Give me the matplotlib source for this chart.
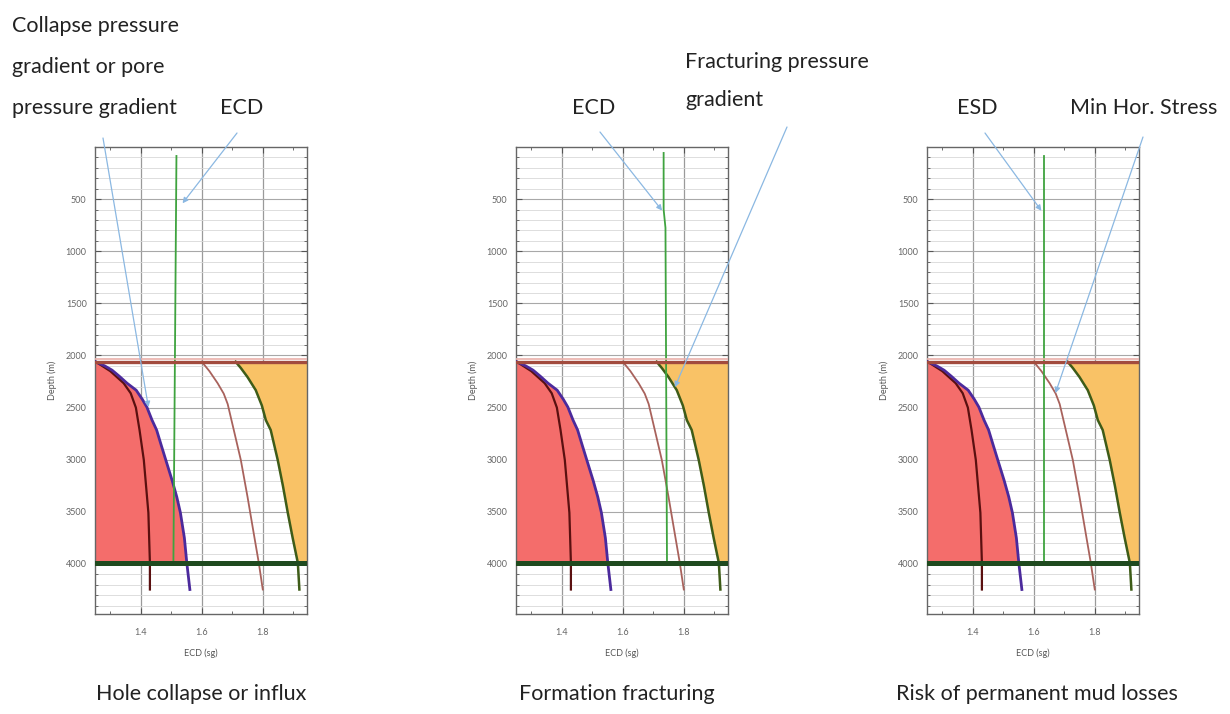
import numpy as np
import matplotlib
matplotlib.use('Agg')
import matplotlib.pyplot as plt
from matplotlib.ticker import MultipleLocator, FixedLocator

plt.rcParams['font.family'] = ['Lato', 'DejaVu Sans']

# curves shared by the three panels: (depth m, ECD sg)
collapse_depth = [2060, 2100, 2141, 2200, 2266, 2333, 2420, 2495, 2620, 2715, 2850, 3002, 3200, 3356, 3509, 3750, 3990, 4245]
collapse_sg    = [1.252, 1.282, 1.306, 1.330, 1.355, 1.385, 1.405, 1.420, 1.437, 1.452, 1.466, 1.482, 1.503, 1.518, 1.530, 1.543, 1.551, 1.561]

pore_depth = [2060, 2150, 2266, 2362, 2500, 2715, 3002, 3509, 3990, 4245]
pore_sg    = [1.252, 1.300, 1.344, 1.367, 1.384, 1.396, 1.410, 1.425, 1.430, 1.430]

minstress_depth = [2060, 2150, 2266, 2366, 2466, 2715, 3002, 3356, 3700, 3990, 4245]
minstress_sg    = [1.600, 1.625, 1.652, 1.672, 1.685, 1.705, 1.728, 1.750, 1.770, 1.787, 1.800]

frac_depth = [2060, 2120, 2207, 2333, 2480, 2620, 2715, 3002, 3250, 3509, 3750, 3990, 4245]
frac_sg    = [1.711, 1.728, 1.750, 1.777, 1.797, 1.810, 1.826, 1.849, 1.866, 1.882, 1.898, 1.915, 1.920]

top_section = 2062     # brown horizontal line
bottom_section = 3990  # dark green horizontal line

# ECD / ESD line per panel
ecd_depth = [[86, 3990], [57, 600, 775, 3990], [86, 3990]]
ecd_sg = [[1.517, 1.507], [1.734, 1.734, 1.740, 1.745], [1.633, 1.633]]

titles = ['Hole collapse or influx', 'Formation fracturing', 'Risk of permanent mud losses']

W, H = 1230, 714
fig = plt.figure(figsize=(W / 100, H / 100), dpi=100)

def fx(px):
    return px / W

def fy(py):
    return 1 - py / H

axes_left = [95, 516, 927]
axes_top, axes_bottom = 147, 614

c_red_fill = '#f46d6b'
c_orange = '#f9c266'
arrow_c = '#8bb8e2'

axs = []
for i in range(3):
    ax = fig.add_axes([fx(axes_left[i]), fy(axes_bottom), fx(212), (axes_bottom - axes_top) / H])
    axs.append(ax)
    ax.set_xlim(1.25, 1.945)
    ax.set_ylim(4480, 0)
    xl, xr = ax.get_xlim()

    ax.yaxis.set_major_locator(FixedLocator([500, 1000, 1500, 2000, 2500, 3000, 3500, 4000]))
    ax.yaxis.set_minor_locator(MultipleLocator(100))
    ax.xaxis.set_major_locator(FixedLocator([1.4, 1.6, 1.8]))
    ax.xaxis.set_minor_locator(MultipleLocator(0.1))
    ax.grid(which='minor', axis='y', color='#d8d8d8', lw=0.6)
    ax.grid(which='major', axis='y', color='#a8a8a8', lw=0.8)
    ax.grid(which='major', axis='x', color='#9a9a9a', lw=0.9)
    ax.set_axisbelow(True)
    ax.tick_params(which='both', direction='in', top=True, right=True, colors='#555555',
                   labelsize=6.5, labelcolor='#666666')
    ax.tick_params(which='major', length=4)
    ax.tick_params(which='minor', length=2)
    ax.tick_params(axis='y', which='major', pad=6)
    ax.tick_params(axis='x', which='major', pad=10)
    for s in ax.spines.values():
        s.set_color('#666666')
        s.set_linewidth(1.0)
    ax.set_xlabel('ECD (sg)', fontsize=6.5, color='#555555', labelpad=8)
    ax.set_ylabel('Depth (m)', fontsize=6.5, color='#555555', labelpad=6)

    cd = np.array(collapse_depth); cs = np.array(collapse_sg)
    m = cd <= bottom_section
    ax.fill_betweenx(cd[m], xl, cs[m], color=c_red_fill, lw=0, zorder=2)
    fd = np.array(frac_depth); fs = np.array(frac_sg)
    m = fd <= bottom_section
    ax.fill_betweenx(fd[m], fs[m], xr, color=c_orange, lw=0, zorder=2)

    ax.plot(pore_sg, pore_depth, color='#5a1010', lw=1.6, zorder=4)
    ax.plot(collapse_sg, collapse_depth, color='#4b2a9c', lw=2.0, zorder=4)
    ax.plot(minstress_sg, minstress_depth, color='#a8625c', lw=1.3, zorder=4)
    ax.plot(frac_sg, frac_depth, color='#3e5c18', lw=1.8, zorder=4)
    ax.plot(ecd_sg[i], ecd_depth[i], color='#3fa33f', lw=1.3, zorder=5)

    ax.axhline(top_section - 28, color='#eab0aa', lw=1.2, zorder=6)
    ax.axhline(top_section, color='#a24b3e', lw=2.4, zorder=6)
    ax.axhline(bottom_section, color='#1f4a1f', lw=3.6, zorder=6)

    fig.text(fx([96, 519, 896][i]), fy(700), titles[i], fontsize=15.5, color='#222222',
             ha='left', va='baseline')

ap = dict(arrowstyle='-|>', color=arrow_c, lw=0.9, mutation_scale=8, shrinkA=0, shrinkB=0)

def arrow(ax, xy, tail):
    ax.annotate('', xy=xy, xytext=(fx(tail[0]), fy(tail[1])), textcoords='figure fraction',
                arrowprops=ap, zorder=8, annotation_clip=False)

# panel 1
arrow(axs[0], (np.interp(2495, collapse_depth, collapse_sg) + 0.005, 2495), (103, 138))
arrow(axs[0], (ecd_sg[0][0] + 0.02, 540), (237, 133))
# panel 2
arrow(axs[1], (ecd_sg[1][0] - 0.005, 610), (600, 132))
arrow(axs[1], (np.interp(2304, frac_depth, frac_sg), 2304), (787, 127))
# panel 3
arrow(axs[2], (ecd_sg[2][0] - 0.008, 612), (985, 133))
arrow(axs[2], (np.interp(2361, minstress_depth, minstress_sg), 2361), (1143, 137))

tk = dict(fontsize=15.5, color='#222222', ha='left', va='baseline')
fig.text(fx(12), fy(32), 'Collapse pressure', **tk)
fig.text(fx(12), fy(73), 'gradient or pore', **tk)
fig.text(fx(12), fy(114), 'pressure gradient', **tk)
fig.text(fx(220), fy(114), 'ECD', **tk)
fig.text(fx(572), fy(114), 'ECD', **tk)
fig.text(fx(685), fy(68), 'Fracturing pressure', **tk)
fig.text(fx(685), fy(106), 'gradient', **tk)
fig.text(fx(957), fy(114), 'ESD', **tk)
fig.text(fx(1070), fy(114), 'Min Hor. Stress', **tk)

fig.savefig('out.png', dpi=100)
